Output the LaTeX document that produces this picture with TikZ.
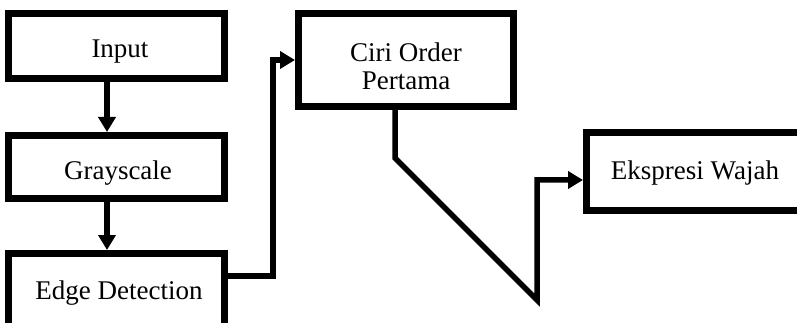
\documentclass[tikz,border=0pt]{standalone}
\usepackage{fontspec}
\setmainfont{Liberation Serif}
\usetikzlibrary{arrows.meta}
\begin{document}
\begin{tikzpicture}[x=1pt,y=-1pt,
  box/.style={draw=black, line width=7pt, inner sep=0pt},
  txt/.style={anchor=base, inner sep=0pt, font=\fontsize{27}{30}\selectfont},
  conn/.style={draw=black, line width=5.5pt, -{Triangle[length=15pt,width=17pt]}}]
\useasboundingbox (0,0) rectangle (797,323);
\clip (0,0) rectangle (797,323);
% boxes
\node[box, minimum width=216pt, minimum height=65pt] (input) at (116.5,46) {};
\node[box, minimum width=216pt, minimum height=63pt] (gray) at (116.5,167) {};
\node[box, minimum width=216pt, minimum height=75pt] (edge) at (116.5,291) {};
\node[box, minimum width=215pt, minimum height=93pt] (ciri) at (406,60) {};
\node[box, minimum width=217pt, minimum height=78pt] (eks) at (695,171.5) {};
% texts
\node[txt] (tinput) at (120,58) {Input};
\node[txt] (tgray) at (118,179) {Grayscale};
\node[txt] (tedge) at (119,299) {Edge Detection};
\node[txt] (tciri1) at (406,62) {Ciri Order};
\node[txt] (tciri2) at (406,90) {Pertama};
\node[txt] (teks) at (695,179) {Ekspresi Wajah};
% connectors
\draw[conn] ([xshift=-9.5pt]input.south) -- ([xshift=-9.5pt]gray.north);
\draw[conn] ([xshift=-9.5pt]gray.south) -- ([xshift=-9.5pt]edge.north);
\draw[conn] ([yshift=15pt]edge.east) -- ++(45,0) |- (ciri.west);
\draw[conn] ([xshift=-11pt]ciri.south) -- (395,158) -- (537,300) -- (537,180)
  -- ([yshift=-8.5pt]eks.west);
\end{tikzpicture}
\end{document}
